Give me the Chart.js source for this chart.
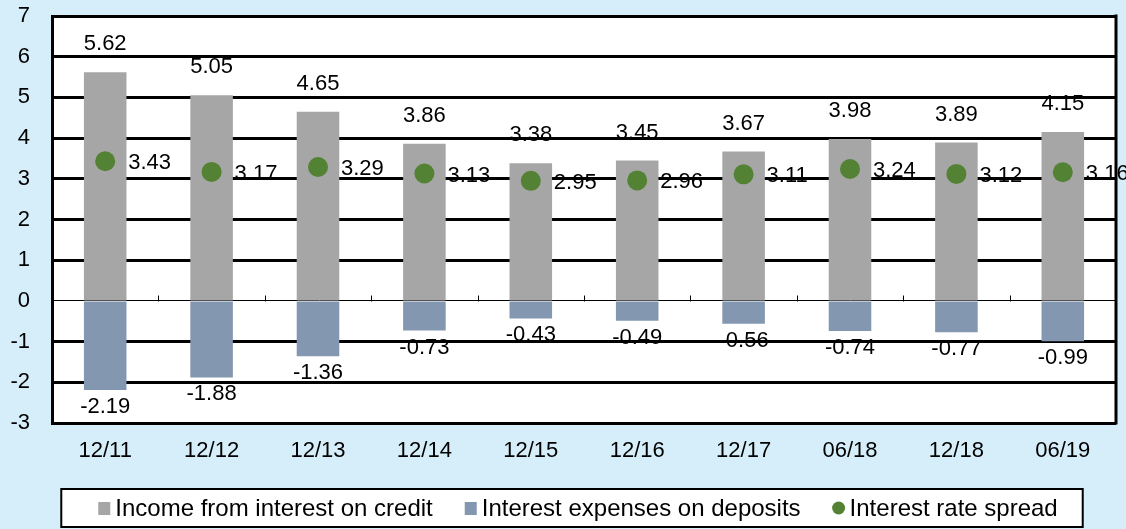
<!DOCTYPE html>
<html>
<head>
<meta charset="utf-8">
<script src="https://cdn.jsdelivr.net/npm/chart.js@4.4.1/dist/chart.umd.min.js"></script>
<style>
  html, body { margin: 0; padding: 0; background: #d5eef9; }
  #wrap { width: 1126px; height: 529px; position: relative; }
</style>
</head>
<body>
<div id="wrap"><canvas id="chart"></canvas></div>
<script>
// periods (month/year)
const periods = ['12/11', '12/12', '12/13', '12/14', '12/15', '12/16', '12/17', '06/18', '12/18', '06/19']

// percent values
const creditIncome = [5.62, 5.05, 4.65, 3.86, 3.38, 3.45, 3.67, 3.98, 3.89, 4.15]
const depositExpenses = [-2.19, -1.88, -1.36, -0.73, -0.43, -0.49, -0.56, -0.74, -0.77, -0.99]
const rateSpread = [3.43, 3.17, 3.29, 3.13, 2.95, 2.96, 3.11, 3.24, 3.12, 3.16]

const yTicks = [-3, -2, -1, 0, 1, 2, 3, 4, 5, 6, 7]

const FONT = 'Liberation Sans, Arial, sans-serif'
const GRAY = '#a6a6a6'
const BLUE = '#8497b0'
const GREEN = '#548235'

// white plot area + right frame + small ticks on the zero line
const plotFrame = {
  id: 'plotFrame',
  beforeDraw(chart) {
    const { ctx, chartArea: a } = chart
    ctx.save()
    ctx.fillStyle = '#fff'
    ctx.fillRect(a.left, a.top, a.right - a.left, a.bottom - a.top)
    ctx.restore()
  },
  afterDraw(chart) {
    const { ctx, chartArea: a, scales } = chart
    ctx.save()
    ctx.strokeStyle = '#000'
    ctx.lineWidth = 3
    ctx.beginPath()
    ctx.moveTo(a.right, a.top - 1.5)
    ctx.lineTo(a.right, a.bottom + 1.5)
    ctx.stroke()

    // category boundary ticks on the 0 line
    const y0 = Math.round(scales.y.getPixelForValue(0)) + 0.5
    ctx.lineWidth = 1
    ctx.beginPath()
    for (let i = 1; i < periods.length; i++) {
      const x = Math.round((scales.x.getPixelForValue(i - 1) + scales.x.getPixelForValue(i)) / 2) + 0.5
      ctx.moveTo(x, y0)
      ctx.lineTo(x, y0 - 6)
    }
    ctx.stroke()
    ctx.restore()
  }
}

// value labels
const valueLabels = {
  id: 'valueLabels',
  afterDatasetsDraw(chart) {
    const { ctx } = chart
    ctx.save()
    ctx.font = '22px ' + FONT
    ctx.fillStyle = '#000'
    ctx.textBaseline = 'middle'

    chart.getDatasetMeta(0).data.forEach((bar, i) => {
      ctx.textAlign = 'center'
      ctx.fillText(creditIncome[i].toFixed(2), bar.x, bar.y - 28)
    })
    chart.getDatasetMeta(1).data.forEach((bar, i) => {
      ctx.textAlign = 'center'
      ctx.fillText(depositExpenses[i].toFixed(2), bar.x, bar.y + 17)
    })
    chart.getDatasetMeta(2).data.forEach((pt, i) => {
      ctx.textAlign = 'left'
      ctx.fillText(rateSpread[i].toFixed(2), pt.x + 23, pt.y + 2)
    })
    ctx.restore()
  }
}

// boxed legend under the axis
const boxLegend = {
  id: 'boxLegend',
  afterDraw(chart) {
    const { ctx } = chart
    const items = chart.data.datasets.map((ds, i) => ({
      text: ds.label,
      color: i === 2 ? ds.pointBackgroundColor : ds.backgroundColor,
      dot: i === 2
    }))
    ctx.save()
    ctx.font = '24px ' + FONT
    const sw = 12, gapText = 5, gapItem = 32
    const widths = items.map(it => sw + gapText + ctx.measureText(it.text).width)
    const total = widths.reduce((a, b) => a + b, 0) + gapItem * (items.length - 1)
    const cy = 508
    let x = 578 - total / 2

    ctx.fillStyle = '#fff'
    ctx.fillRect(x - 37, 489, total + 62, 38)
    ctx.strokeStyle = '#000'
    ctx.lineWidth = 2
    ctx.strokeRect(x - 37, 489, total + 62, 38)

    ctx.textBaseline = 'middle'
    ctx.textAlign = 'left'
    items.forEach((it, i) => {
      ctx.fillStyle = it.color
      if (it.dot) {
        ctx.beginPath()
        ctx.arc(x + sw / 2, cy, sw / 2 + 0.5, 0, Math.PI * 2)
        ctx.fill()
      } else {
        ctx.fillRect(x, cy - sw / 2, sw, sw + 1)
      }
      ctx.fillStyle = '#000'
      ctx.fillText(it.text, x + sw + gapText, cy + 1)
      x += widths[i] + gapItem
    })
    ctx.restore()
  }
}

new Chart(document.getElementById('chart'), {
  data: {
    labels: periods,
    datasets: [
      {
        type: 'bar',
        label: 'Income from interest on credit',
        data: creditIncome,
        backgroundColor: GRAY,
        order: 2
      },
      {
        type: 'bar',
        label: 'Interest expenses on deposits',
        data: depositExpenses,
        backgroundColor: BLUE,
        order: 2
      },
      {
        type: 'line',
        label: 'Interest rate spread',
        data: rateSpread,
        showLine: false,
        pointRadius: 10,
        pointHoverRadius: 10,
        pointBackgroundColor: GREEN,
        pointBorderWidth: 0,
        order: 1
      }
    ]
  },
  options: {
    responsive: true,
    maintainAspectRatio: false,
    animation: false,
    layout: { padding: { top: 0, right: 9, bottom: 56, left: 0 } },
    datasets: {
      bar: { grouped: false, categoryPercentage: 1, barPercentage: 0.4 }
    },
    scales: {
      x: {
        grid: { display: false, drawTicks: false },
        border: { display: false },
        ticks: { color: '#000', font: { family: FONT, size: 22 }, padding: 15, maxRotation: 0 },
        afterFit(scale) { scale.height = 50 }
      },
      y: {
        min: -3,
        max: 7,
        afterBuildTicks(scale) { scale.ticks = yTicks.map(v => ({ value: v })) },
        grid: {
          color: '#000',
          lineWidth: (c) => (c.tick && c.tick.value === 0 ? 1 : 3),
          drawTicks: false
        },
        border: { display: true, color: '#000', width: 3 },
        ticks: { color: '#000', font: { family: FONT, size: 22 }, padding: 22 },
        afterFit(scale) {
          scale.width = 52
          scale.paddingTop = 16
          scale.paddingBottom = 0
        }
      }
    },
    plugins: {
      legend: { display: false },
      tooltip: { enabled: false }
    }
  },
  plugins: [plotFrame, valueLabels, boxLegend]
})
</script>
</body>
</html>
